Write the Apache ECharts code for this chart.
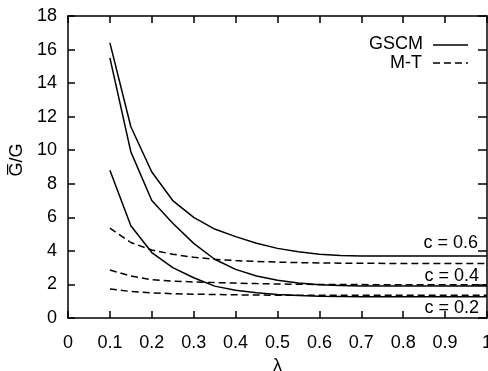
<!DOCTYPE html>
<html>
<head>
<meta charset="utf-8">
<script src="https://cdn.jsdelivr.net/npm/echarts@6/dist/echarts.min.js"></script>
<style>html,body{margin:0;padding:0;background:#fff}#c{width:488px;height:371px}</style>
</head>
<body>
<div id="c"></div>
<script>
var lambda = [0.1,0.15,0.2,0.25,0.3,0.35,0.4,0.45,0.5,0.55,0.6,0.65,0.7,0.8,0.9,1.0];
var gscm06 = [16.4,11.4,8.7,7.0,6.0,5.3,4.85,4.45,4.15,3.95,3.8,3.72,3.7,3.7,3.7,3.7];
var gscm04 = [15.5,9.9,7.0,5.65,4.45,3.5,2.9,2.5,2.25,2.08,1.98,1.93,1.9,1.9,1.9,1.9];
var gscm02 = [8.8,5.5,3.9,3.0,2.4,1.9,1.65,1.5,1.4,1.34,1.3,1.28,1.27,1.27,1.27,1.27];
var mt06 = [5.35,4.5,4.05,3.8,3.62,3.5,3.42,3.37,3.33,3.3,3.28,3.27,3.26,3.25,3.25,3.25];
var mt04 = [2.86,2.5,2.28,2.2,2.15,2.11,2.08,2.05,2.03,2.01,2.0,2.0,1.99,1.98,1.98,1.98];
var mt02 = [1.73,1.58,1.5,1.45,1.42,1.4,1.38,1.37,1.36,1.35,1.35,1.35,1.35,1.35,1.35,1.35];
var xTicks = {min:0, max:1, interval:0.1};
var yTicks = {min:0, max:18, interval:2};
var seriesNames = ['GSCM','M-T'];
var curveLabels = ['c = 0.6','c = 0.4','c = 0.2'];

function pairs(ys){ return lambda.map(function(x,i){ return [x, ys[i]]; }); }
var FONT = '"Liberation Sans", Arial, Helvetica, sans-serif';
var FS = 18;
var DASH = [7,4];
function line(name, ys, type){ return {name:name,type:'line',data:pairs(ys),symbol:'none',lineStyle:{color:'#000',width:1.5,type:type},itemStyle:{color:'#000'},animation:false}; }

function axisLine(){ return {show:true,onZero:false,lineStyle:{color:'#000',width:1.5}}; }
function tick(){ return {inside:true,length:7,lineStyle:{color:'#000',width:1.5}}; }
var chart = echarts.init(document.getElementById('c'));
chart.setOption({
  backgroundColor:'#fff',
  animation:false,
  grid:{left:68,right:1,top:16,bottom:53,outerBoundsMode:'none',containLabel:false},
  xAxis:[{
    type:'value',min:xTicks.min,max:xTicks.max,interval:xTicks.interval,
    axisLine:axisLine(),axisTick:tick(),splitLine:{show:false},
    axisLabel:{color:'#000',fontSize:FS,fontFamily:FONT,margin:16},
    name:'λ',nameLocation:'middle',nameGap:35,nameTextStyle:{color:'#000',fontSize:FS,fontFamily:FONT}
  },{
    type:'value',position:'top',min:xTicks.min,max:xTicks.max,interval:xTicks.interval,
    axisLine:axisLine(),axisTick:tick(),splitLine:{show:false},axisLabel:{show:false}
  }],
  yAxis:[{
    type:'value',min:yTicks.min,max:yTicks.max,interval:yTicks.interval,
    axisLine:axisLine(),axisTick:tick(),splitLine:{show:false},
    axisLabel:{color:'#000',fontSize:FS,fontFamily:FONT,margin:11},
    name:'G\u0305/G',nameLocation:'middle',nameGap:32,nameRotate:90,
    nameTextStyle:{color:'#000',fontSize:FS,fontFamily:FONT,padding:[0,0,0,14]}
  },{
    type:'value',position:'right',min:yTicks.min,max:yTicks.max,interval:yTicks.interval,
    axisLine:axisLine(),axisTick:{inside:true,length:9,lineStyle:{color:'#000',width:1.5}},splitLine:{show:false},axisLabel:{show:false}
  }],
  graphic:[
    {type:'text',right:65,top:35,style:{text:seriesNames[0],fill:'#000',font:FS+'px '+FONT}},
    {type:'line',shape:{x1:433,y1:45,x2:468,y2:45},style:{stroke:'#000',lineWidth:1.5}},
    {type:'text',right:66,top:54,style:{text:seriesNames[1],fill:'#000',font:FS+'px '+FONT}},
    {type:'line',shape:{x1:433,y1:63,x2:468,y2:63},style:{stroke:'#000',lineWidth:1.5,lineDash:DASH}},
    {type:'text',right:10,top:234,style:{text:curveLabels[0],fill:'#000',font:FS+'px '+FONT}},
    {type:'text',right:9,top:267,style:{text:curveLabels[1],fill:'#000',font:FS+'px '+FONT}},
    {type:'text',right:9,top:299,style:{text:curveLabels[2],fill:'#000',font:FS+'px '+FONT}}
  ],
  series:[line(seriesNames[0],gscm06,'solid'),line(seriesNames[0],gscm04,'solid'),line(seriesNames[0],gscm02,'solid'),
          line(seriesNames[1],mt06,DASH),line(seriesNames[1],mt04,DASH),line(seriesNames[1],mt02,DASH)]
});
</script>
</body>
</html>
